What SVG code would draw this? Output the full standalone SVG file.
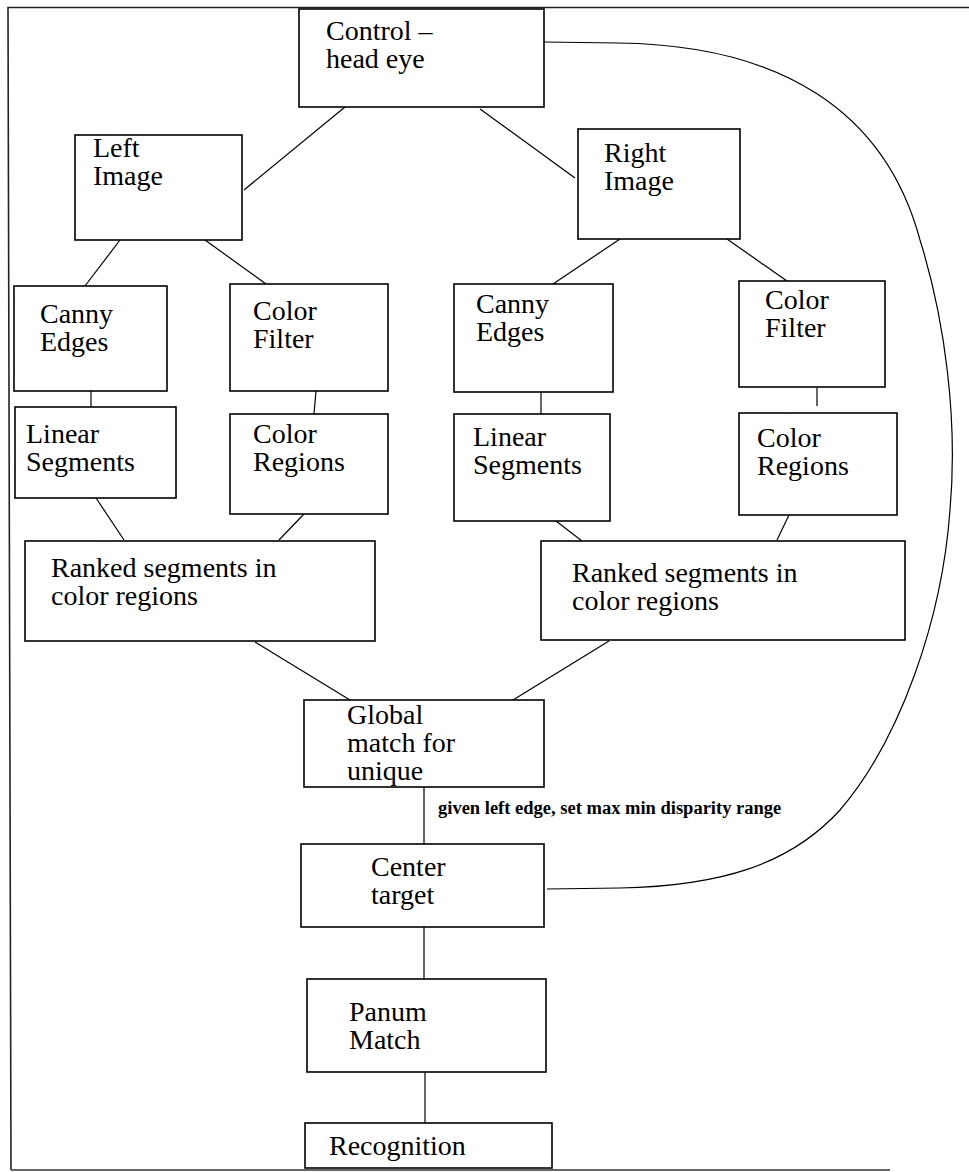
<svg xmlns="http://www.w3.org/2000/svg" width="969" height="1172" viewBox="0 0 969 1172">
<style>
.bx{fill:#fff;stroke:#000;stroke-width:1.6}
.ln{fill:none;stroke:#000;stroke-width:1.2}
.t{font-family:"Liberation Serif","Times New Roman",serif;font-size:28px;fill:#000}
.lb{font-family:"Liberation Serif","Times New Roman",serif;font-size:18.5px;font-weight:bold;fill:#000}
.fr{fill:none;stroke:#222;stroke-width:1.6}
</style>
<rect width="969" height="1172" fill="#fff"/>
<g id="frame">
<path class="fr" d="M969,7.5 H8 L11,1170"/>
<line x1="11" y1="1170" x2="890" y2="1170" stroke="#666" stroke-width="2"/>
</g>
<g id="connectors">
<line class="ln" x1="345" y1="107" x2="244" y2="190"/>
<line class="ln" x1="480" y1="109" x2="575" y2="178"/>
<line class="ln" x1="120" y1="240" x2="85" y2="286"/>
<line class="ln" x1="205" y1="240" x2="266" y2="284"/>
<line class="ln" x1="620" y1="239" x2="553" y2="284"/>
<line class="ln" x1="727" y1="239" x2="787" y2="281"/>
<line class="ln" x1="91" y1="386" x2="91" y2="407"/>
<line class="ln" x1="316" y1="391" x2="314" y2="414"/>
<line class="ln" x1="541" y1="392" x2="541" y2="414"/>
<line class="ln" x1="817" y1="388" x2="817" y2="406"/>
<line class="ln" x1="96" y1="498" x2="124" y2="540"/>
<line class="ln" x1="304" y1="514" x2="279" y2="540"/>
<line class="ln" x1="556" y1="521" x2="582" y2="541"/>
<line class="ln" x1="789" y1="515" x2="777" y2="540"/>
<line class="ln" x1="255" y1="642" x2="350" y2="700"/>
<line class="ln" x1="609" y1="641" x2="513" y2="700"/>
<line class="ln" x1="424" y1="787" x2="424" y2="844"/>
<line class="ln" x1="424" y1="927" x2="424" y2="979"/>
<line class="ln" x1="425" y1="1072" x2="425" y2="1123"/>
<path class="ln" d="M544,42 L618,43 C780,45 885,110 920,240 C945,320 958,420 950,510 C942,620 900,740 840,810 C790,865 720,886 620,888 L547,889"/>
<text class="lb" x="438" y="814">given left edge, set max min disparity range</text>
</g>
<g id="control">
<rect class="bx" x="299" y="9" width="245" height="98"/>
<text class="t"><tspan x="326" y="40">Control –</tspan><tspan x="326" y="68">head eye</tspan></text>
</g>
<g id="left-image">
<rect class="bx" x="75" y="135" width="167" height="105"/>
<text class="t"><tspan x="93" y="157">Left</tspan><tspan x="93" y="185">Image</tspan></text>
</g>
<g id="right-image">
<rect class="bx" x="578" y="129" width="162" height="110"/>
<text class="t"><tspan x="604" y="162">Right</tspan><tspan x="604" y="190">Image</tspan></text>
</g>
<g id="canny-left">
<rect class="bx" x="14" y="286" width="153" height="105"/>
<text class="t"><tspan x="40" y="323">Canny</tspan><tspan x="40" y="351">Edges</tspan></text>
</g>
<g id="colorfilter-left">
<rect class="bx" x="230" y="284" width="158" height="107"/>
<text class="t"><tspan x="253" y="320">Color</tspan><tspan x="253" y="348">Filter</tspan></text>
</g>
<g id="canny-right">
<rect class="bx" x="454" y="284" width="159" height="108"/>
<text class="t"><tspan x="476" y="313">Canny</tspan><tspan x="476" y="341">Edges</tspan></text>
</g>
<g id="colorfilter-right">
<rect class="bx" x="739" y="281" width="146" height="106"/>
<text class="t"><tspan x="765" y="309">Color</tspan><tspan x="765" y="337">Filter</tspan></text>
</g>
<g id="linear-left">
<rect class="bx" x="15" y="407" width="161" height="91"/>
<text class="t"><tspan x="26" y="443">Linear</tspan><tspan x="26" y="471">Segments</tspan></text>
</g>
<g id="colorregions-left">
<rect class="bx" x="230" y="414" width="158" height="100"/>
<text class="t"><tspan x="253" y="443">Color</tspan><tspan x="253" y="471">Regions</tspan></text>
</g>
<g id="linear-right">
<rect class="bx" x="454" y="414" width="156" height="107"/>
<text class="t"><tspan x="473" y="446">Linear</tspan><tspan x="473" y="474">Segments</tspan></text>
</g>
<g id="colorregions-right">
<rect class="bx" x="739" y="413" width="158" height="102"/>
<text class="t"><tspan x="757" y="447">Color</tspan><tspan x="757" y="475">Regions</tspan></text>
</g>
<g id="ranked-left">
<rect class="bx" x="25" y="541" width="350" height="100"/>
<text class="t"><tspan x="51" y="577">Ranked segments in</tspan><tspan x="51" y="605">color regions</tspan></text>
</g>
<g id="ranked-right">
<rect class="bx" x="541" y="541" width="364" height="99"/>
<text class="t"><tspan x="572" y="582">Ranked segments in</tspan><tspan x="572" y="610">color regions</tspan></text>
</g>
<g id="global-match">
<rect class="bx" x="304" y="700" width="240" height="87"/>
<text class="t"><tspan x="347" y="724">Global</tspan><tspan x="347" y="752">match for</tspan><tspan x="347" y="780">unique</tspan></text>
</g>
<g id="center-target">
<rect class="bx" x="301" y="844" width="243" height="83"/>
<text class="t"><tspan x="371" y="876">Center</tspan><tspan x="371" y="904">target</tspan></text>
</g>
<g id="panum-match">
<rect class="bx" x="307" y="979" width="239" height="93"/>
<text class="t"><tspan x="349" y="1021">Panum</tspan><tspan x="349" y="1049">Match</tspan></text>
</g>
<g id="recognition">
<rect class="bx" x="305" y="1123" width="247" height="45"/>
<text class="t" x="329" y="1155">Recognition</text>
</g>
</svg>
